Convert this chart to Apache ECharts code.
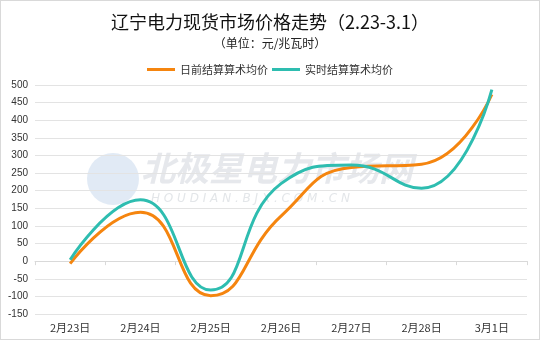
<!DOCTYPE html>
<html><head><meta charset="utf-8">
<script src="https://cdn.jsdelivr.net/npm/echarts@6/dist/echarts.min.js"></script>
<style>html,body{margin:0;padding:0;background:#fff}#c{width:540px;height:340px;box-sizing:border-box;border:1px solid #d9d9d9}</style>
</head><body><div id="c"></div>
<script>
const categories = ['2月23日','2月24日','2月25日','2月26日','2月27日','2月28日','3月1日'];
const dayAhead = [-7, 139, -98, 128, 266, 275, 473];
const realTime = [4, 174, -82, 220, 273, 207, 487];
const seriesNames = ['日前结算算术均价','实时结算算术均价'];
const font = '"Noto Sans CJK SC", sans-serif';
const chart = echarts.init(document.getElementById('c'));
chart.setOption({
  animation:false,
  textStyle:{fontFamily:font},
  title:[
    {text:'辽宁电力现货市场价格走势（2.23-3.1）',left:'center',top:7,textStyle:{fontSize:18,fontWeight:'normal',color:'#111',fontFamily:font}},
    {text:'（单位：元/兆瓦时）',left:'center',top:31,textStyle:{fontSize:12,fontWeight:'normal',color:'#222',fontFamily:font}}
  ],
  legend:{top:58,left:'center',itemWidth:28,itemHeight:3,itemGap:4,icon:'rect',
    textStyle:{fontSize:11,color:'#333',fontFamily:font},data:seriesNames},
  graphic:[
    {type:'circle',shape:{cx:112,cy:178,r:26},style:{fill:'rgba(170,195,225,0.35)'},z:-1},
    {type:'text',left:140,top:150,style:{text:'北极星电力市场网',font:'italic bold 34px "Noto Sans CJK SC"',fill:'rgba(200,205,212,0.45)'},z:-1},
    {type:'text',left:150,top:192,style:{text:'H O U D I A N . B J X . C O M . C N',font:'italic 12px "DejaVu Sans"',fill:'rgba(200,205,212,0.5)'},z:-1}
  ],
  grid:{left:34,right:12,top:84,bottom:25},
  xAxis:[
    {type:'category',data:categories,boundaryGap:true,position:'bottom',
      axisLine:{show:false,onZero:false},axisTick:{show:false},
      axisLabel:{fontSize:11,color:'#333',margin:8,fontFamily:font}},
    {type:'category',data:categories,boundaryGap:true,position:'bottom',
      axisLine:{show:true,onZero:true,lineStyle:{color:'#d9d9d9'}},
      axisTick:{show:true,length:4,lineStyle:{color:'#d9d9d9'}},axisLabel:{show:false}}
  ],
  yAxis:{type:'value',min:-150,max:500,interval:50,
    axisLine:{show:false},axisTick:{show:false},
    axisLabel:{fontSize:10,color:'#333',margin:7,fontFamily:'"Liberation Sans", sans-serif'},
    splitLine:{lineStyle:{color:'#e3e3e3'}}},
  series:[
    {name:seriesNames[0],type:'line',data:dayAhead,smooth:true,symbol:'none',
      lineStyle:{width:3,color:'#F5850F'},itemStyle:{color:'#F5850F'}},
    {name:seriesNames[1],type:'line',data:realTime,smooth:true,symbol:'none',
      lineStyle:{width:3,color:'#2EBDB0'},itemStyle:{color:'#2EBDB0'}}
  ]
});
</script></body></html>
